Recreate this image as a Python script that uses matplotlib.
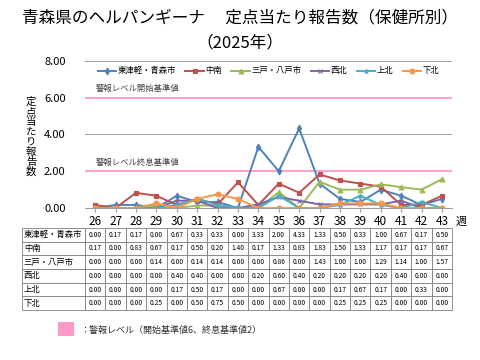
import matplotlib
matplotlib.use("Agg")
import matplotlib.pyplot as plt
from matplotlib.patches import Rectangle

plt.rcParams['font.family'] = ['Noto Sans CJK JP', 'DejaVu Sans']

weeks = [str(w) for w in range(26, 44)]
areas = ['東津軽・青森市', '中南', '三戸・八戸市', '西北', '上北', '下北']
higashitsugaru = [0.00, 0.17, 0.17, 0.00, 0.67, 0.33, 0.33, 0.00, 3.33, 2.00, 4.33, 1.33, 0.50, 0.33, 1.00, 0.67, 0.17, 0.50]
chunan = [0.17, 0.00, 0.83, 0.67, 0.17, 0.50, 0.20, 1.40, 0.17, 1.33, 0.83, 1.83, 1.50, 1.33, 1.17, 0.17, 0.17, 0.67]
sannohe = [0.00, 0.00, 0.00, 0.14, 0.00, 0.14, 0.14, 0.00, 0.00, 0.86, 0.00, 1.43, 1.00, 1.00, 1.29, 1.14, 1.00, 1.57]
seihoku = [0.00, 0.00, 0.00, 0.00, 0.40, 0.40, 0.00, 0.00, 0.20, 0.60, 0.40, 0.20, 0.20, 0.20, 0.20, 0.40, 0.00, 0.00]
kamikita = [0.00, 0.00, 0.00, 0.00, 0.17, 0.50, 0.17, 0.00, 0.00, 0.67, 0.00, 0.00, 0.17, 0.67, 0.17, 0.00, 0.33, 0.00]
shimokita = [0.00, 0.00, 0.00, 0.25, 0.00, 0.50, 0.75, 0.50, 0.00, 0.00, 0.00, 0.00, 0.25, 0.25, 0.25, 0.00, 0.00, 0.00]
series = [higashitsugaru, chunan, sannohe, seihoku, kamikita, shimokita]
alert_start = 6
alert_end = 2

colors = ['#4F81BD', '#C0504D', '#9BBB59', '#8064A2', '#4BACC6', '#F79646']
markers = ['d', 's', '^', 'x', '*', 'o']
pink = '#FF99CC'

fig = plt.figure(figsize=(4.8, 3.6), dpi=100)
fig.text(0.5, 0.95, '青森県のヘルパンギーナ　 定点当たり報告数（保健所別）',
         ha='center', va='center', fontsize=12)
fig.text(0.5, 0.88, '（2025年）', ha='center', va='center', fontsize=12)

ax = fig.add_axes([0.177, 0.422, 0.765, 0.409])
x = list(range(len(weeks)))
for vals, name, c, m in zip(series, areas, colors, markers):
    ax.plot(x, vals, color=c, marker=m, markersize=3.5, linewidth=1.4, label=name,
            markeredgewidth=0.8)

ax.axhline(alert_start, color=pink, linewidth=1.3, zorder=1)
ax.axhline(alert_end, color=pink, linewidth=1.3, zorder=1)
for yv in [4, 8]:
    ax.axhline(yv, color='#A0A0A0', linewidth=0.7, zorder=0)
ax.text(0.05, alert_start + 0.35, '警報レベル開始基準値', fontsize=6, color='#404040')
ax.text(0.05, alert_end + 0.35, '警報レベル終息基準値', fontsize=6, color='#404040')

ax.set_xlim(-0.5, len(weeks) - 0.5)
ax.set_ylim(0, 8)
ax.set_yticks([0, 2, 4, 6, 8])
ax.set_yticklabels(['0.00', '2.00', '4.00', '6.00', '8.00'], fontsize=8)
ax.set_xticks(x)
ax.set_xticklabels(weeks, fontsize=8.5)
ax.tick_params(axis='x', length=3, color='#A0A0A0', pad=2)
ax.tick_params(axis='y', length=0, pad=14)
for s in ['top', 'right', 'left']:
    ax.spines[s].set_visible(False)
ax.spines['bottom'].set_color('#A0A0A0')
ax.text(len(weeks) - 0.35, -0.75, '週', fontsize=8, va='center')

fig.text(0.065, 0.62, '\n'.join('定点当たり報告数'), ha='center', va='center',
         fontsize=7.5, linespacing=1.0)

ax.legend(loc='upper center', bbox_to_anchor=(0.5, 0.99), ncol=6, frameon=False,
          fontsize=6, handlelength=2.2, columnspacing=1.1, handletextpad=0.2,
          borderaxespad=0.1)

# data table
tax = fig.add_axes([22 / 480, 50 / 360, 430 / 480, 82 / 360])
tax.axis('off')
cells = [[name] + ['%.2f' % v for v in vals] for name, vals in zip(areas, series)]
col_w = [63 / 430] + [(367 / 18) / 430] * len(weeks)
tbl = tax.table(cellText=cells, colWidths=col_w, bbox=[0, 0, 1, 1], cellLoc='center')
tbl.auto_set_font_size(False)
for (r, c), cell in tbl.get_celld().items():
    cell.set_edgecolor('#808080')
    cell.set_linewidth(0.6)
    cell.get_text().set_fontsize(4.8)
    if c == 0:
        cell.get_text().set_fontsize(6)
        cell.get_text().set_ha('left')
        cell.PAD = 0.03

fig.patches.append(Rectangle((58 / 480, 1 - 336 / 360), 16 / 480, 14 / 360,
                             transform=fig.transFigure, facecolor=pink, edgecolor='none'))
fig.text(80 / 480, 1 - 330 / 360, '：警報レベル（開始基準値6、終息基準値2）', fontsize=6.5,
         va='center', color='#303030')

fig.savefig('out.png', dpi=100)
